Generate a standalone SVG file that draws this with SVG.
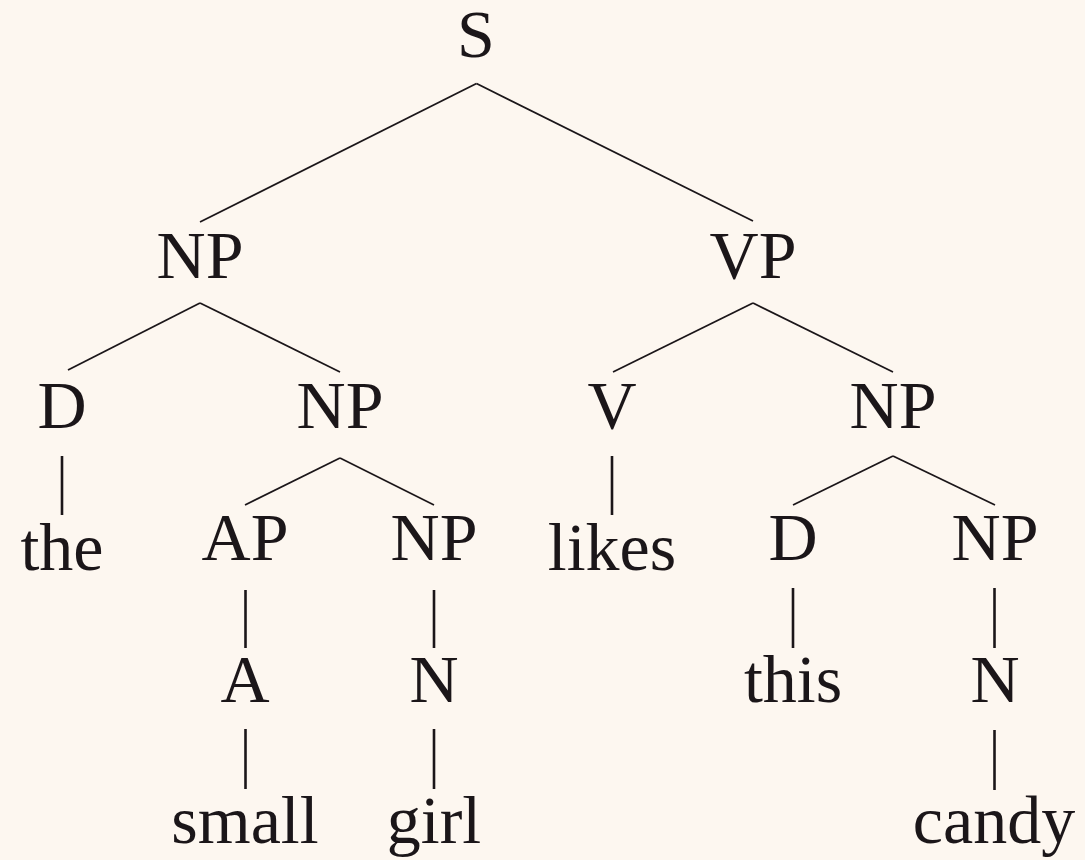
<svg xmlns="http://www.w3.org/2000/svg" width="1085" height="860" viewBox="0 0 1085 860">
<style>
text{font-family:"Liberation Serif","Times New Roman",serif;font-size:68px;fill:#1b1619;text-anchor:middle}
.e line{stroke:#1b1619;stroke-width:1.8;stroke-linecap:butt}
.e line.v{stroke-width:2.6}
</style>
<rect width="1085" height="860" fill="#fdf7f0"/>
<g class="e" id="connectors">
<line x1="476.5" y1="83.5" x2="200" y2="222"/>
<line x1="476.5" y1="83.5" x2="753" y2="221"/>
<line x1="200" y1="303" x2="68" y2="370"/>
<line x1="200" y1="303" x2="340" y2="372"/>
<line x1="753" y1="303" x2="613" y2="372"/>
<line x1="753" y1="303" x2="893" y2="372"/>
<line class="v" x1="62" y1="456" x2="62" y2="515"/>
<line x1="340" y1="458" x2="245" y2="505"/>
<line x1="340" y1="458" x2="434" y2="505"/>
<line class="v" x1="612" y1="456" x2="612" y2="515"/>
<line x1="893" y1="456" x2="793" y2="505"/>
<line x1="893" y1="456" x2="995" y2="505"/>
<line class="v" x1="245.5" y1="590" x2="245.5" y2="648"/>
<line class="v" x1="434" y1="590" x2="434" y2="648"/>
<line class="v" x1="793" y1="588" x2="793" y2="648"/>
<line class="v" x1="994.5" y1="588" x2="994.5" y2="648"/>
<line class="v" x1="245.5" y1="729" x2="245.5" y2="789"/>
<line class="v" x1="434" y1="729" x2="434" y2="789"/>
<line class="v" x1="994.5" y1="730" x2="994.5" y2="790"/>
</g>
<g id="n-S"><text x="476" y="57">S</text></g>
<g id="n-NP1"><text x="200" y="278">NP</text></g>
<g id="n-VP"><text x="753" y="278">VP</text></g>
<g id="n-D1"><text x="62" y="428">D</text></g>
<g id="n-NP2"><text x="340" y="428">NP</text></g>
<g id="n-V"><text x="612" y="428">V</text></g>
<g id="n-NP3"><text x="893" y="428">NP</text></g>
<g id="n-the"><text x="62" y="570">the</text></g>
<g id="n-AP"><text x="245" y="560">AP</text></g>
<g id="n-NP4"><text x="434" y="560">NP</text></g>
<g id="n-likes"><text x="612" y="570">likes</text></g>
<g id="n-D2"><text x="793" y="560">D</text></g>
<g id="n-NP5"><text x="995" y="560">NP</text></g>
<g id="n-A"><text x="245" y="702">A</text></g>
<g id="n-N1"><text x="434" y="702">N</text></g>
<g id="n-this"><text x="793" y="702">this</text></g>
<g id="n-N2"><text x="995" y="702">N</text></g>
<g id="n-small"><text x="245" y="843">small</text></g>
<g id="n-girl"><text x="434" y="843">girl</text></g>
<g id="n-candy"><text x="994" y="843">candy</text></g>
</svg>
